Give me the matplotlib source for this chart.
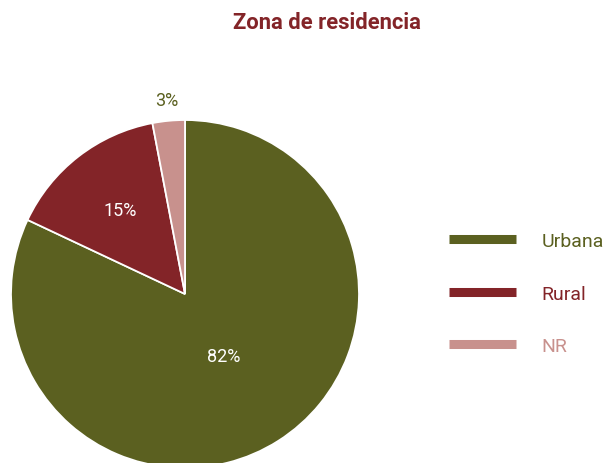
"""Pie chart: Zona de residencia."""

import matplotlib

matplotlib.use("Agg")
import matplotlib.pyplot as plt
import numpy as np
from matplotlib.lines import Line2D

plt.rcParams["font.family"] = ["Roboto", "DejaVu Sans"]

CATEGORIES = ["Urbana", "Rural", "NR"]
PERCENTS = [82, 15, 3]
COLORS = ["#5b6020", "#832428", "#c8918d"]
TITLE = "Zona de residencia"


def main() -> int:
    fig = plt.figure(figsize=(6.05, 4.64), dpi=100)
    ax = fig.add_axes([11 / 605, -5 / 464, 348 / 605, 348 / 464])

    wedges, _ = ax.pie(
        PERCENTS,
        colors=COLORS,
        startangle=90,
        counterclock=False,
        radius=1.0,
        wedgeprops={"edgecolor": "white", "linewidth": 1.3},
    )
    ax.set_xlim(-1, 1)
    ax.set_ylim(-1, 1)
    ax.set_aspect("equal")
    ax.axis("off")

    # label distance (fraction of radius) per slice; small slice sits outside
    dists = [0.42, 0.61, 1.12]
    for w, pct, d in zip(wedges, PERCENTS, dists):
        mid = np.deg2rad((w.theta1 + w.theta2) / 2)
        inside = d < 1
        ax.text(
            d * np.cos(mid),
            d * np.sin(mid),
            f"{pct}%",
            ha="center",
            va="center",
            fontsize=13,
            color="white" if inside else COLORS[0],
            clip_on=False,
        )

    fig.text(0.54, 0.951, TITLE, ha="center", va="center",
             fontsize=15.8, fontweight="bold", color=COLORS[1])

    handles = [Line2D([0], [0], color=c, linewidth=6.5, solid_capstyle="butt") for c in COLORS]
    leg = fig.legend(
        handles,
        CATEGORIES,
        loc="upper left",
        bbox_to_anchor=(449 / 605, 1 - 233 / 464),
        frameon=False,
        fontsize=14,
        handlelength=3.45,
        handletextpad=1.3,
        labelspacing=1.78,
        borderpad=0,
        borderaxespad=0,
    )
    for txt, c in zip(leg.get_texts(), COLORS):
        txt.set_color(c)

    fig.savefig("out.png", dpi=100)
    plt.close(fig)
    return 0


if __name__ == "__main__":
    raise SystemExit(main())
